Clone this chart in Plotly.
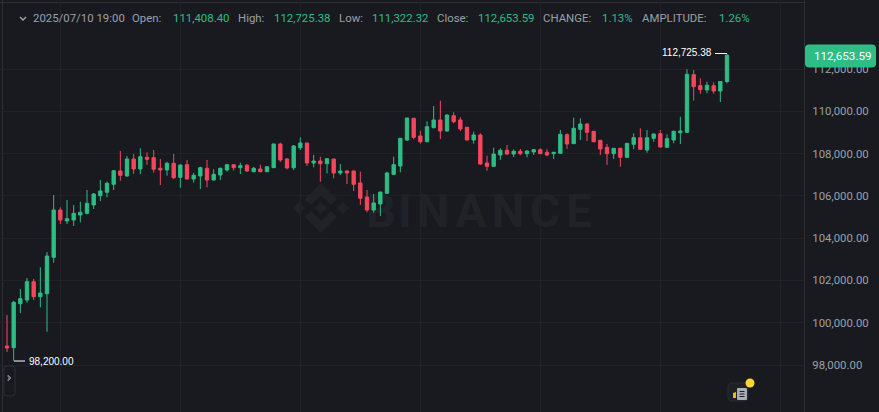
import plotly.graph_objects as go

opens = [98899,98818,100900,101075,101940,101230,101372,103094,105332,104811,104859,105095,105175,105568,106008,106169,106547,107176,106940,107744,107271,107824,107805,107304,107224,107540,106878,107474,106798,106940,107304,106751,106987,107224,107474,107332,107446,107143,107271,107143,107332,108453,107744,107332,108278,108501,107555,107649,107522,107744,107082,107176,107176,106609,105946,105332,105615,106121,107020,107413,108642,109669,108832,108562,109224,109589,109068,109792,109589,109243,108643,108879,107555,107398,107933,108155,107980,108108,107995,108075,108184,108061,107995,108013,108893,108467,109149,109399,109054,108628,108297,107995,108250,107824,108439,108751,108170,108723,108940,108297,108643,108988,109007,111731,111211,111008,111211,110960,111408.40]
highs = [100365,101027,101595,102115,102068,102621,103345,106041,105459,105805,105568,105724,106278,106136,106751,106670,107224,108122,107886,107980,108250,108061,108170,107744,107616,107980,107493,107697,107096,107379,107697,107257,107332,107493,107493,107569,107507,107365,107474,107398,108477,108515,107777,108406,108770,108501,107933,107853,107777,107744,107507,107209,107190,107143,106278,106088,106183,107143,107853,108737,109697,109683,109082,109527,110251,110501,109858,109953,109716,109271,109035,108959,107900,108278,108250,108406,108203,108217,108155,108203,108250,108203,108075,109116,108959,109697,109669,109432,109068,108643,108453,108264,108264,108486,108959,109196,109116,108940,109116,108912,109082,109745,111987,111954,111561,111400,111372,111419,112725.38]
lows = [98615,98200,100460,100947,101075,100729,99575,102839,104669,104669,104575,104750,105128,105379,105757,105932,106278,106717,106906,107034,107034,107460,107096,106514,106954,106798,106386,106784,106623,106325,106405,106717,106751,107143,107190,107034,107143,107115,107115,107129,107318,107602,107257,107224,108170,107413,107351,106670,107067,106831,106987,106561,106230,105568,105222,105204,105048,106103,107001,107115,108595,108676,108467,108534,109196,108690,109035,109433,109068,108628,108467,107460,107190,107379,107697,107933,107838,107919,107824,107933,107980,107871,107744,107995,108217,108453,108643,108595,108534,107933,107460,107744,107379,107777,108203,108170,108042,108562,108297,108278,108486,108453,108988,110501,110832,110851,110832,110440,111322.32]
closes = [98804,100966,101136,101940,101230,101406,103156,105332,104859,104920,105175,105222,105648,106088,106230,106594,107190,106973,107744,107271,107853,107730,107257,107224,107540,106859,107460,106798,106973,107332,106751,107020,107304,107474,107332,107427,107176,107304,107143,107379,108453,107697,107318,108359,108501,107555,107649,107522,107758,107082,107176,107082,106547,105885,105332,105663,106183,107082,107474,108723,109683,108770,108562,109272,109589,109068,109825,109508,109163,108643,108879,107507,107398,107980,108155,107980,108108,107995,108122,108184,107995,107933,108061,108912,108453,109196,109399,109007,108562,108217,107995,108250,107824,108486,108751,108203,108751,108926,108311,108704,109054,109068,111750,111164,111022,111230,110960,111408.40,112653.59]

price_ticks = [98000,100000,102000,104000,106000,108000,110000,112000]
header = [("2025/07/10 19:00",31,"m"),("Open:",130,"m"),("111,408.40",171,"g"),("High:",236,"m"),("112,725.38",272,"g"),
          ("Low:",337,"m"),("111,322.32",370,"g"),("Close:",435,"m"),("112,653.59",476,"g"),("CHANGE:",541,"m"),
          ("1.13%",600,"g"),("AMPLITUDE:",640,"m"),("1.26%",717,"g")]
watermark_letters = [("B",381),("I",405),("N",433),("A",471),("N",508),("C",545),("E",579)]

W,H,PW = 879,412,804
BG="#181a20"; GRID="#1f2229"; UP="#2ebd85"; DOWN="#f6465d"; MUTED="#9aa0a9"; AX="#2b2f36"; WM="#202228"
FONT="Roboto"
def px(x): return x/PW
def py(y): return 1-y/H

def poly(pts, fill, layer="below", line=None):
    d="M"+" L".join(f"{px(x):.5f},{py(y):.5f}" for x,y in pts)+" Z"
    return dict(type="path",path=d,xref="paper",yref="paper",fillcolor=fill,layer=layer,
                line=dict(width=0) if line is None else line)
def seg(x0,y0,x1,y1,color,w=1,layer="above"):
    return dict(type="line",xref="paper",yref="paper",x0=px(x0),y0=py(y0),x1=px(x1),y1=py(y1),
                line=dict(color=color,width=w),layer=layer)
def rrect(x0,y0,x1,y1,r,fill,line=None,layer="above"):
    d=(f"M{px(x0+r):.5f},{py(y0):.5f} L{px(x1-r):.5f},{py(y0):.5f} Q{px(x1):.5f},{py(y0):.5f} {px(x1):.5f},{py(y0+r):.5f} "
       f"L{px(x1):.5f},{py(y1-r):.5f} Q{px(x1):.5f},{py(y1):.5f} {px(x1-r):.5f},{py(y1):.5f} "
       f"L{px(x0+r):.5f},{py(y1):.5f} Q{px(x0):.5f},{py(y1):.5f} {px(x0):.5f},{py(y1-r):.5f} "
       f"L{px(x0):.5f},{py(y0+r):.5f} Q{px(x0):.5f},{py(y0):.5f} {px(x0+r):.5f},{py(y0):.5f} Z")
    return dict(type="path",path=d,xref="paper",yref="paper",fillcolor=fill,layer=layer,
                line=dict(width=0) if line is None else dict(color=line,width=1))

fig=go.Figure(go.Candlestick(x=list(range(len(opens))),open=opens,high=highs,low=lows,close=closes,
    whiskerwidth=0,
    increasing=dict(line=dict(color=UP,width=1),fillcolor=UP),
    decreasing=dict(line=dict(color=DOWN,width=1),fillcolor=DOWN),
    hoverinfo="skip",showlegend=False))

shapes=[]
# watermark logo
cx,cy=321,208
for pts in [
    [(cx,cy-25),(cx+16,cy-9),(cx+10,cy-3),(cx,cy-13),(cx-10,cy-3),(cx-16,cy-9)],
    [(cx,cy+25),(cx+16,cy+9),(cx+10,cy+3),(cx,cy+13),(cx-10,cy+3),(cx-16,cy+9)],
    [(cx,cy-6),(cx+6,cy),(cx,cy+6),(cx-6,cy)],
    [(cx-22,cy-6),(cx-16,cy),(cx-22,cy+6),(cx-28,cy)],
    [(cx+22,cy-6),(cx+28,cy),(cx+22,cy+6),(cx+16,cy)]]:
    shapes.append(poly(pts,WM))
for letter,lx in watermark_letters:
    shapes.append(dict(type="rect",xref="paper",yref="paper",x0=px(lx-25),x1=px(lx+25),y0=py(228),y1=py(188),
        fillcolor="rgba(0,0,0,0)",line=dict(width=0),layer="below",
        label=dict(text=f"<b>{letter}</b>",font=dict(family=FONT,size=46,color=WM),textposition="middle center")))
# frame
shapes+= [seg(0,2.5,804,2.5,AX,1,"below"),seg(2.5,0,2.5,412,AX,1,"below")]
# high / low markers
shapes+= [seg(715,53.5,727,53.5,"#ffffff"),seg(14,361,25,361,"#ffffff")]
# price tag
shapes.append(rrect(805,44.5,876,67.5,4,UP))
# left collapse button
shapes.append(rrect(4,366,15,396,3,BG,line="#2b2f36"))
shapes.append(poly([(8,375),(11,378),(8,381),(8,379.5),(9.5,378),(8,376.5)],"#7d838c",layer="above",line=dict(color="#7d838c",width=1)))
# note icon
shapes.append(rrect(728,383,748,401,4,"#1e2026",line="#2a2d34"))
shapes.append(rrect(737,388,747,400,1,"#a9aeb6"))
shapes.append(poly([(733,393),(736,392),(736,398),(733,398)],"#f0b90b",layer="above"))
shapes.append(seg(739.5,391.5,744.5,391.5,"#1e2026",1))
shapes.append(seg(739.5,394,744.5,394,"#1e2026",1))
shapes.append(seg(739.5,396.5,744.5,396.5,"#1e2026",1))
shapes.append(dict(type="circle",xref="paper",yref="paper",x0=px(745.5),x1=px(754.5),y0=py(387.5),y1=py(378.5),
                   fillcolor="#fcd535",line=dict(width=0),layer="above"))
# header chevron
shapes.append(dict(type="path",xref="paper",yref="paper",
    path=f"M{px(20):.5f},{py(17):.5f} L{px(23):.5f},{py(20):.5f} L{px(26):.5f},{py(17):.5f}",
    line=dict(color=MUTED,width=1.5),layer="above"))

ann=[]
for t,x,k in header:
    ann.append(dict(text=t,x=px(x),y=py(17.5),xref="paper",yref="paper",xanchor="left",yanchor="middle",showarrow=False,
                    font=dict(family=FONT,size=11.4,color=UP if k=="g" else MUTED)))
ann.append(dict(text="112,725.38",x=px(714),y=py(52.5),xref="paper",yref="paper",xanchor="right",yanchor="middle",showarrow=False,
                font=dict(family="Liberation Sans",size=10,color="#ffffff")))
ann.append(dict(text="98,200.00",x=px(27),y=py(361.5),xref="paper",yref="paper",xanchor="left",yanchor="middle",showarrow=False,
                font=dict(family="Liberation Sans",size=10,color="#ffffff")))
ann.append(dict(text="112,653.59",x=px(842),y=py(56),xref="paper",yref="paper",xanchor="center",yanchor="middle",showarrow=False,
                font=dict(family=FONT,size=11.6,color="#ffffff")))

fig.update_layout(width=W,height=H,margin=dict(l=0,r=W-PW,t=0,b=0),paper_bgcolor=BG,plot_bgcolor=BG,
    shapes=shapes,annotations=ann,showlegend=False,boxgap=0.28,
    xaxis=dict(range=[-1.05,119.55],rangeslider=dict(visible=False),tick0=8,dtick=18,showgrid=True,gridcolor=GRID,gridwidth=1,
               showticklabels=False,ticks="",zeroline=False,showline=False),
    yaxis=dict(side="right",range=[95777,115264],tickvals=price_ticks,tickformat=",.2f",showgrid=True,gridcolor=GRID,gridwidth=1,
               tickfont=dict(family=FONT,size=11.4,color=MUTED),ticks="outside",ticklen=5,tickcolor="rgba(0,0,0,0)",
               zeroline=False,showline=True,linecolor=AX,linewidth=1))
fig.write_html("out.html",post_script="document.body.style.margin='0';document.body.style.background='#181a20';",config={"displayModeBar":False})
